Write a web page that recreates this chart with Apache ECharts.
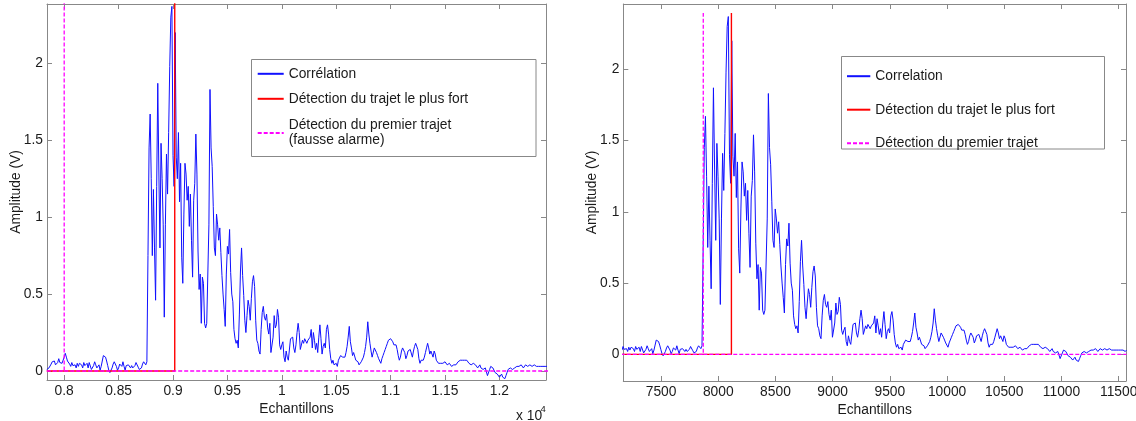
<!DOCTYPE html>
<html>
<head>
<meta charset="utf-8">
<script src="https://cdn.jsdelivr.net/npm/echarts@6/dist/echarts.min.js"></script>
<style>
  html, body { margin: 0; padding: 0; background: #ffffff; }
  #left  { position: absolute; left: 0;     top: 0; width: 568px; height: 421px; }
  #right { position: absolute; left: 568px; top: 0; width: 568px; height: 421px; }
</style>
</head>
<body>
<div id="left"></div>
<div id="right"></div>
<script>
// Correlation amplitude (V), one value every 10 samples
const correlationAmplitude = [
  0.01,0.01,0.02,0.03,0.045,0.06,0.05,0.065,0.04,0.035,
  0.055,0.08,0.055,0.06,0.05,0.04,0.09,0.115,0.09,0.065,
  0.055,0.045,0.03,0.055,0.035,0.03,0.04,0.02,0.05,0.03,
  0.05,0.055,0.04,0.02,0.055,0.035,0.04,0.05,0.02,0.055,
  0.045,0.01,0.02,0.035,0.06,0.04,0.02,0.02,0.04,0.005,
  0.03,0.065,0.1,0.105,0.09,0.065,0.035,0.005,-0.01,-0.01,
  0.02,0.045,0.06,0.05,0.03,0.005,0.02,0.045,0.035,0.03,
  0.06,0.03,0.005,0.035,0.035,0.04,0.05,0.02,0.035,0.02,
  0.01,0.035,0.055,0.045,0.025,0.01,0.005,0.02,0.045,0.06,
  0.05,0.04,0.06,
  0.75,1.45,1.67,1.25,0.75,1.18,0.80,0.46,1.20,1.87,
  1.30,0.80,1.48,1.25,0.95,0.35,0.95,1.41,1.15,1.55,
  1.98,2.30,2.37,1.40,1.20,2.20,1.39,1.25,1.55,1.10,
  1.35,0.74,0.57,1.02,1.35,1.28,1.11,1.20,0.94,1.15,
  0.85,0.61,1.11,1.22,1.54,1.28,0.78,0.53,0.63,0.31,
  0.61,0.57,0.31,0.28,0.31,0.30,0.95,1.83,1.45,1.33,
  1.07,0.80,0.75,1.02,0.95,0.85,0.93,0.77,0.62,0.50,
  0.40,0.29,0.63,0.81,0.76,0.92,0.64,0.50,0.45,0.27,
  0.21,0.18,0.20,0.15,0.37,0.65,0.80,0.62,0.49,0.33,
  0.25,0.36,0.46,0.42,0.33,0.47,0.58,0.62,0.55,0.33,
  0.20,0.18,0.13,0.11,0.27,0.38,0.42,0.35,0.33,0.37,
  0.28,0.24,0.31,
  0.12,0.12,0.22,0.36,0.28,0.30,0.40,0.35,0.17,0.14,
  0.17,0.19,0.09,0.06,0.13,0.09,0.07,0.08,0.21,0.20,
  0.22,0.15,0.12,0.17,0.25,0.31,0.25,0.14,0.13,0.20,
  0.18,0.21,0.20,0.18,0.20,0.21,0.22,0.27,0.15,0.25,
  0.20,0.14,0.18,0.12,0.22,0.30,0.21,0.11,0.16,0.18,
  0.15,0.27,0.30,0.24,0.14,0.08,0.05,0.07,0.04,0.04,
  0.05,0.03,0.07,0.08,0.10,0.10,0.09,0.10,0.09,0.12,
  0.16,0.22,0.29,0.19,0.15,0.10,0.12,0.13,0.07,0.08,
  0.06,0.04,0.05,0.06,0.07,0.09,0.12,0.16,0.22,0.32,
  0.24,0.18,0.13,0.09,0.08,0.15,0.14,0.12,0.10,0.08,
  0.07,0.05,0.08,0.10,0.12,0.14,0.16,0.18,0.20,0.21,
  0.21,0.20,0.19,0.17,0.17,0.17,0.14,0.10,0.07,0.09,
  0.13,0.15,0.14,0.12,0.08,0.10,0.13,0.14,
  0.14,0.15,0.09,0.13,0.16,0.18,0.17,0.14,0.08,0.05,
  0.07,0.08,0.07,0.09,0.12,0.15,0.18,0.15,0.11,0.13,
  0.12,0.09,0.13,0.11,0.07,0.06,0.05,0.04,0.05,0.06,
  0.05,0.06,0.06,0.05,0.04,0.04,0.05,0.04,0.03,0.03,
  0.04,0.04,0.04,0.05,0.06,0.07,0.07,0.08,0.07,0.07,
  0.07,0.08,0.07,0.06,0.05,0.05,0.04,0.05,0.05,0.04,
  0.04,0.03,0.02,0.03,0.04,0.02,0.02,0.01,0.02,0.02,
  0.03,-0.03,-0.04,0.01,0.03,0.03,0.02,0.01,-0.01,-0.02,
  -0.02,-0.03,-0.04,-0.03,-0.02,-0.04,-0.05,-0.05,-0.03,-0.01,
  0.01,0.02,0.02,0.02,0.01,0.01,0.02,0.03,0.03,0.04,
  0.03,0.03,0.04,0.03,0.02,0.03,0.04,0.04,0.03,0.04,
  0.04,0.03,0.03,0.02,0.04,0.04,0.03,0.02,0.03,0.04,
  0.03,0.02,0.03,0.04,0.03,0.02,0.03,0.04,0.02,0.03
];
const sampleStep = 10;

// Sample index of the first correlation value in each record
const leftFirstSample = 7840;
const rightFirstSample = 6938;

// Detected paths (sample index) and the height of the detection stems
const leftStrongestSample = 9016;
const leftFirstPathSample = 8000;
const rightStrongestSample = 8115;
const rightFirstPathSample = 7869;
const detectionHeight = 2.395;

// Axis ticks and their labels
const leftXTicks = [8000, 8500, 9000, 9500, 10000, 10500, 11000, 11500, 12000];
const leftXTickLabels = ['0.8', '0.85', '0.9', '0.95', '1', '1.05', '1.1', '1.15', '1.2'];
const rightXTicks = [7500, 8000, 8500, 9000, 9500, 10000, 10500, 11000, 11500];
const rightXTickLabels = ['7500', '8000', '8500', '9000', '9500', '10000', '10500', '11000', '11500'];
const yTicks = [0, 0.5, 1, 1.5, 2];
const yTickLabels = ['0', '0.5', '1', '1.5', '2'];

const FONT = "'Liberation Sans', Arial, Helvetica, sans-serif";
const FONT_SIZE = 13.8;
const TEXT_COLOR = '#1a1a1a';
const AXIS_COLOR = '#888888';
const BLUE = '#1010ff';
const RED = '#ff0000';
const MAGENTA = '#ff00ff';

function correlationPoints(firstSample) {
  return correlationAmplitude.map((v, i) => [firstSample + i * sampleStep, v]);
}
function lastSample(firstSample) {
  return firstSample + (correlationAmplitude.length - 1) * sampleStep;
}
// Stem at the strongest path: zero up to the detection, then the stem
function strongestPathPoints(firstSample, sample) {
  return [[firstSample, 0], [sample, 0], [sample, detectionHeight]];
}
// Stem at the first path, zero over the whole record
function firstPathPoints(firstSample, sample) {
  return [[firstSample, 0], [sample, 0], [sample, detectionHeight], [sample, null],
          [sample, 0], [lastSample(firstSample), 0]];
}

function tickFormatter(ticks, labels) {
  return function (value) {
    for (let i = 0; i < ticks.length; i++) {
      if (Math.abs(ticks[i] - value) < 1e-6) return labels[i];
    }
    return '';
  };
}

function boxAxis(base, ticks, labels, withLabels) {
  return Object.assign({
    type: 'value',
    axisLine: { show: true, onZero: false, lineStyle: { color: AXIS_COLOR, width: 1 } },
    axisTick: { show: true, inside: true, length: 5, customValues: ticks, lineStyle: { color: AXIS_COLOR } },
    axisLabel: withLabels ? {
      show: true, customValues: ticks, formatter: tickFormatter(ticks, labels),
      margin: 4, color: TEXT_COLOR, fontFamily: FONT, fontSize: FONT_SIZE
    } : { show: false },
    splitLine: { show: false }
  }, base);
}

function buildChart(el, cfg) {
  const chart = echarts.init(el, null, { renderer: 'canvas' });
  const legendText = { color: TEXT_COLOR, fontFamily: FONT, fontSize: FONT_SIZE, lineHeight: 15 };
  const option = {
    animation: false,
    backgroundColor: '#ffffff',
    grid: [{ left: cfg.grid.left, top: cfg.grid.top, width: cfg.grid.width, height: cfg.grid.height,
             containLabel: false, outerBoundsMode: 'none' }],
    xAxis: [
      boxAxis({ min: cfg.xMin, max: cfg.xMax, position: 'bottom',
        name: 'Echantillons', nameLocation: 'middle', nameGap: 22, nameMoveOverlap: false,
        nameTextStyle: { color: TEXT_COLOR, fontFamily: FONT, fontSize: FONT_SIZE } },
        cfg.xTicks, cfg.xTickLabels, true),
      boxAxis({ min: cfg.xMin, max: cfg.xMax, position: 'top' }, cfg.xTicks, cfg.xTickLabels, false)
    ],
    yAxis: [
      boxAxis({ min: cfg.yMin, max: cfg.yMax, position: 'left',
        name: 'Amplitude (V)', nameLocation: 'middle', nameGap: 24, nameMoveOverlap: false,
        nameTextStyle: { color: TEXT_COLOR, fontFamily: FONT, fontSize: FONT_SIZE } },
        yTicks, yTickLabels, true),
      boxAxis({ min: cfg.yMin, max: cfg.yMax, position: 'right' }, yTicks, yTickLabels, false)
    ],
    legend: cfg.legends.map(l => ({
      show: true, orient: 'vertical', left: l.left, top: l.top, padding: 0,
      itemWidth: l.itemWidth, itemHeight: 14, itemGap: l.itemGap,
      itemStyle: { opacity: 0 },
      data: l.names, textStyle: legendText, selectedMode: false
    })),
    graphic: cfg.graphic,
    series: [
      { name: cfg.names[0], type: 'line', xAxisIndex: 0, yAxisIndex: 0,
        data: correlationPoints(cfg.firstSample), showSymbol: false, symbol: 'none',
        lineStyle: { color: BLUE, width: 1 }, itemStyle: { color: BLUE }, clip: true, z: 2 },
      { name: cfg.names[1], type: 'line', xAxisIndex: 0, yAxisIndex: 0,
        data: strongestPathPoints(cfg.firstSample, cfg.strongest), showSymbol: false, symbol: 'none',
        lineStyle: { color: RED, width: 1.4 }, itemStyle: { color: RED }, clip: true, z: 3 },
      { name: cfg.names[2], type: 'line', xAxisIndex: 0, yAxisIndex: 0, connectNulls: false,
        data: firstPathPoints(cfg.firstSample, cfg.firstPath), showSymbol: false, symbol: 'none',
        lineStyle: { color: MAGENTA, width: 1.3, type: [4, 2] }, itemStyle: { color: MAGENTA }, clip: true, z: 4 }
    ]
  };
  chart.setOption(option);
  return chart;
}

const frameStyle = { fill: '#ffffff', stroke: AXIS_COLOR, lineWidth: 1 };

// Left: false alarm on the first path
buildChart(document.getElementById('left'), {
  grid: { left: 47, top: 4, width: 499, height: 376 },
  xMin: 7842, xMax: 12428, yMin: -0.0585, yMax: 2.3855,
  xTicks: leftXTicks, xTickLabels: leftXTickLabels,
  firstSample: leftFirstSample, strongest: leftStrongestSample, firstPath: leftFirstPathSample,
  names: ['Corrélation', 'Détection du trajet le plus fort', 'Détection du premier trajet\n(fausse alarme)'],
  legends: [
    { left: 256.7, top: 66.3, itemWidth: 26, itemGap: 10, names: ['Corrélation', 'Détection du trajet le plus fort'] },
    { left: 256.7, top: 118, itemWidth: 26, itemGap: 10, names: ['Détection du premier trajet\n(fausse alarme)'] }
  ],
  graphic: [
    { type: 'rect', z: 0, shape: { x: 251.5, y: 59.5, width: 284.5, height: 97 }, style: frameStyle, silent: true },
    { type: 'text', left: 516, top: 409, z: 10,
      style: { text: 'x 10', fill: TEXT_COLOR, font: FONT_SIZE + 'px ' + FONT } },
    { type: 'text', left: 540.5, top: 404, z: 10,
      style: { text: '4', fill: TEXT_COLOR, font: '9.5px ' + FONT } }
  ]
});

// Right: first path detected correctly
buildChart(document.getElementById('right'), {
  grid: { left: 55.3, top: 4, width: 502.7, height: 377 },
  xMin: 7170, xMax: 11564, yMin: -0.187, yMax: 2.458,
  xTicks: rightXTicks, xTickLabels: rightXTickLabels,
  firstSample: rightFirstSample, strongest: rightStrongestSample, firstPath: rightFirstPathSample,
  names: ['Correlation', 'Détection du trajet le plus fort', 'Détection du premier trajet'],
  legends: [
    { left: 278, top: 68.7, itemWidth: 23.3, itemGap: 18.5,
      names: ['Correlation', 'Détection du trajet le plus fort', 'Détection du premier trajet'] }
  ],
  graphic: [
    { type: 'rect', z: 0, shape: { x: 273.5, y: 56.5, width: 263, height: 92.5 }, style: frameStyle, silent: true }
  ]
});
</script>
</body>
</html>
